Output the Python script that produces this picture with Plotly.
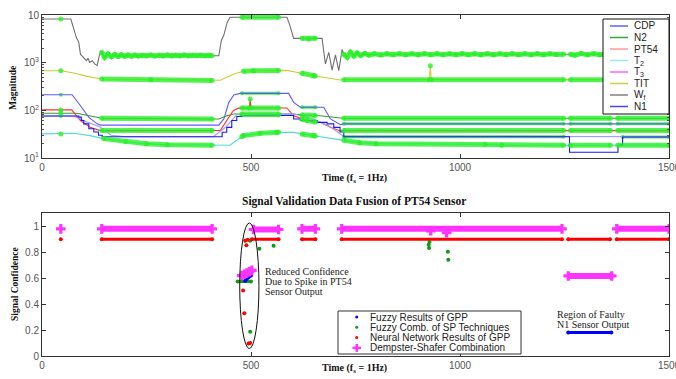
import plotly.graph_objects as go

# ---------------- top panel data (time, magnitude) ----------------
wf_t = [0, 45, 69, 82, 88, 92, 100, 106, 110, 114, 120, 126, 132, 137, 141, 143,
        150, 158, 166, 174, 182, 190, 198, 206, 214, 222, 230, 240, 250, 260, 270, 280,
        290, 300, 310, 320, 330, 340, 350, 360, 370, 380, 390, 400, 407,
        423, 429, 435, 443, 450, 478, 566, 586, 592, 598, 602, 622, 638, 654, 670,
        678, 686, 694, 702, 710, 718, 722, 730, 738, 746, 754, 762, 772, 782, 795,
        810, 825, 840, 855, 870, 885, 900, 915, 930, 945, 960, 975, 990, 1005, 1020,
        1035, 1050, 1065, 1080, 1095, 1110, 1125, 1140, 1155, 1170, 1185, 1200, 1215,
        1230, 1248, 1256, 1264, 1275, 1290, 1305, 1320, 1335, 1350, 1365, 1380, 1395,
        1410, 1425, 1440, 1455, 1470, 1485, 1500]
wf_v = [8250, 8250, 8250, 3400, 2670, 1510, 1295, 1100, 1235, 1016, 1100, 940, 865, 1400, 1700, 1650,
        1300, 1520, 1330, 1480, 1350, 1460, 1360, 1450, 1370, 1440, 1380, 1430, 1390, 1440, 1380, 1430,
        1390, 1440, 1390, 1430, 1390, 1440, 1390, 1430, 1400, 1440, 1390, 1430, 1400,
        1400, 2890, 3800, 7000, 8940, 8940, 8940, 8940, 6460, 4000, 3240, 3240, 3150, 3240, 3240,
        940, 1650, 700, 1450, 680, 1900, 1500, 1300, 1650, 1380, 1600, 1420, 1560, 1440, 1540,
        1450, 1540, 1460, 1540, 1470, 1530, 1460, 1540, 1470, 1530, 1460, 1540, 1470, 1530, 1460,
        1540, 1470, 1530, 1460, 1540, 1470, 1530, 1460, 1540, 1470, 1530, 1460, 1540,
        1480, 1500, 1500, 1500, 1440, 1550, 1460, 1540, 1460, 1540, 1470, 1530, 1470,
        1530, 1470, 1530, 1470, 1530, 1480, 1510]

tit_t = [0, 44, 45, 76, 108, 143, 260, 407, 423, 427, 459, 482, 506, 566, 586, 618, 622,
         650, 654, 714, 722, 927, 929, 931, 1248, 1264, 1500]
tit_v = [679, 679, 679, 607, 516, 454, 440, 425, 425, 428, 578, 658, 679, 685, 690, 607, 600,
         533, 525, 433, 440, 440, 865, 440, 440, 440, 440]

cdp_t = [0, 45, 72, 92, 112, 132, 140, 423, 435, 447, 459, 474, 478, 566, 590, 602, 618, 622,
         654, 674, 690, 714, 722, 1248, 1264, 1360, 1377, 1500]
cdp_v = [213, 213, 213, 125, 71, 52, 49, 49, 66, 147, 210, 227, 227, 227, 227, 147, 116, 116,
         116, 116, 66, 50, 52, 52, 52, 52, 52, 52]

n2_t = [0, 45, 83, 110, 139, 143, 407, 423, 443, 459, 478, 566, 602, 622, 654, 666, 714, 722,
        1248, 1264, 1360, 1377, 1500]
n2_v = [87, 87, 87, 78, 68, 68, 66, 66, 77, 84, 84, 84, 84, 80, 78, 77, 69, 68,
        68, 68, 68, 68, 68]

pt54_t = [0, 45, 71, 92, 115, 139, 143, 407, 423, 427, 442, 458, 470, 478, 496, 498, 500, 566,
          586, 602, 622, 634, 654, 666, 690, 714, 722, 1248, 1264, 1360, 1377, 1500]
pt54_v = [102, 102, 102, 61, 44, 37.6, 37.6, 37.6, 37.6, 38, 61, 99, 111, 112, 112, 173, 112, 112,
          112, 77, 65, 61, 57, 56, 44, 37, 37.6, 37.6, 37.6, 37.6, 37.6, 37.6]

t2_t = [0, 45, 75, 115, 147, 200, 250, 300, 407, 450, 459, 478, 482, 522, 562, 566, 602, 622,
        650, 654, 714, 722, 760, 800, 1060, 1100, 1248, 1264, 1360, 1377, 1500]
t2_v = [32, 32, 33, 29.5, 25.5, 22, 20, 19, 18.5, 18.5, 21.4, 28, 29.5, 32.9, 34.5, 34.5, 34.5, 32,
        29.5, 29, 24, 23.5, 21, 20, 19.5, 18.5, 18.5, 18.5, 18.5, 18.5, 18.5]

t3_t = [0, 75, 108, 140, 165, 200, 410, 440, 466, 602, 650, 690, 720, 1500]
t3_v = [76, 76, 57, 44, 30, 28, 28, 45, 81, 84, 66, 45, 29, 28]

n1_t = [0, 45, 88, 94, 100, 112, 124, 135, 144, 423, 431, 442, 454, 466, 478, 566, 602, 618,
        658, 682, 698, 713, 722, 1248, 1262, 1378, 1389, 1500]
n1_v = [76, 76, 72, 61, 52, 41, 35, 30, 28, 28, 34.7, 44, 61, 74, 78, 78, 66, 61,
        56, 52, 44, 35, 28, 28, 13.2, 18.8, 27.5, 27.5]

# validated (highlighted) time intervals per sensor
wf_ok = [(45, 45), (143, 407), (478, 566), (622, 654), (722, 1248), (1264, 1500)]
tit_ok = [(45, 45), (143, 407), (478, 566), (622, 654), (722, 927), (929, 929), (931, 1248), (1264, 1500)]
cdp_ok = [(45, 45), (478, 566), (622, 654), (722, 1248), (1264, 1360), (1377, 1500)]
n2_ok = [(45, 45), (143, 407), (478, 566), (622, 654), (722, 1248), (1264, 1360), (1377, 1500)]
pt54_ok = [(45, 45), (143, 407), (478, 496), (498, 498), (500, 566), (622, 654), (722, 1248), (1264, 1360), (1377, 1500)]
t2_ok = [(45, 45), (143, 407), (478, 566), (622, 654), (722, 1248), (1264, 1360), (1377, 1500)]
n1_ok = [(45, 45), (478, 566), (722, 1248), (1389, 1500)]

legend_names = ["CDP", "N2", "PT54", "T<sub>2</sub>", "T<sub>3</sub>", "TIT", "W<sub>f</sub>", "N1"]

# ---------------- bottom panel data (time, confidence) ----------------
fr_t = [486, 500, None, 1259, 1362]
fr_v = [0.58, 0.62, None, 0.181, 0.181]

fc_t = [468, 500, None, 498, None, 498, None, 520, None, 554, None, 925, None, 926, None, 927,
        None, 971, None, 972]
fc_v = [0.574, 0.574, None, 0.889, None, 0.186, None, 0.827, None, 0.850, None, 0.858, None, 0.832,
        None, 0.879, None, 0.804, None, 0.742]

nn_t = [45, None, 143, 407, None, 481, None, 484, None, 486, None, 489, None, 492, None, 494, None,
        498, None, 502, 566, None, 622, 654, None, 717, 1244, None, 1259, 1359, None, 1375, 1500]
nn_v = [0.9, None, 0.9, 0.9, None, 0.504, None, 0.33, None, 0.889, None, 0.853, None, 0.897, None,
        0.096, None, 0.1, None, 0.9, 0.9, None, 0.9, 0.9, None, 0.9, 0.9, None, 0.9, 0.9, None, 0.9, 0.9]

ds_t = [45, None, 143, 407, None, 478, 484, 490, 496, 502, None, 506, 566, None, 622, 654, None,
        717, 1244, None, 930, None, 968, None, 1259, 1363, None, 1375, 1500]
ds_v = [0.98, None, 0.98, 0.98, None, 0.62, 0.63, 0.64, 0.65, 0.66, None, 0.975, 0.975, None, 0.98, 0.98,
        None, 0.98, 0.98, None, 0.965, None, 0.95, None, 0.617, 0.617, None, 0.98, 0.98]

bottom_names = ["Fuzzy Results of GPP", "Fuzzy Comb. of SP Techniques",
                "Neural Network Results of GPP", "Dempster-Shafer Combination"]

# ---------------- styles ----------------
SERIF = "Liberation Serif, Times New Roman, serif"
SANS = "Liberation Sans, Arial, sans-serif"
GREEN_HI = "rgba(40,240,40,0.8)"

line_colors = {"CDP": "#5c5cff", "N2": "#339933", "PT54": "#ff3030", "T2": "#50dada",
               "T3": "#9a9aff", "TIT": "#cccc33", "Wf": "#707070", "N1": "#1a1aee"}
legend_colors = ["#6262ff", "#33aa33", "#ff9a9a", "#99e8e8", "#ff66ff", "#d0d040", "#808080", "#4444ff"]

fig = go.Figure()


def pick(t, v, intervals):
    xs, ys = [], []
    for a, b in intervals:
        for ti, vi in zip(t, v):
            if a <= ti <= b:
                xs.append(ti)
                ys.append(vi)
        xs.append(None)
        ys.append(None)
    return xs, ys


def hi_trace(t, v, ok, width, shape="linear", msize=5):
    xs, ys = pick(t, v, ok)
    return go.Scatter(x=xs, y=ys, mode="lines+markers", xaxis="x", yaxis="y",
                      line=dict(color=GREEN_HI, width=width, shape=shape),
                      marker=dict(color=GREEN_HI, size=msize), hoverinfo="skip")


# thin highlights under blue lines
fig.add_trace(hi_trace(cdp_t, cdp_v, cdp_ok, 3, msize=4))
fig.add_trace(hi_trace(n1_t, n1_v, n1_ok, 3, shape="hv", msize=4))

top_series = [("Wf", wf_t, wf_v, "linear"), ("TIT", tit_t, tit_v, "linear"),
              ("CDP", cdp_t, cdp_v, "linear"), ("N2", n2_t, n2_v, "linear"),
              ("PT54", pt54_t, pt54_v, "linear"), ("T2", t2_t, t2_v, "linear"),
              ("T3", t3_t, t3_v, "linear"), ("N1", n1_t, n1_v, "hv")]
for name, t, v, shp in top_series:
    fig.add_trace(go.Scatter(x=t, y=v, mode="lines", xaxis="x", yaxis="y", name=name,
                             line=dict(color=line_colors[name], width=1.1, shape=shp)))

for t, v, ok in [(wf_t, wf_v, wf_ok), (tit_t, tit_v, tit_ok), (n2_t, n2_v, n2_ok),
                 (pt54_t, pt54_v, pt54_ok), (t2_t, t2_v, t2_ok)]:
    fig.add_trace(hi_trace(t, v, ok, 5))

# bottom panel
fig.add_trace(go.Scatter(x=fc_t, y=fc_v, mode="lines+markers", xaxis="x2", yaxis="y2",
                         line=dict(color="#119911", width=3), marker=dict(color="#119911", size=4)))
fig.add_trace(go.Scatter(x=fr_t, y=fr_v, mode="lines+markers", xaxis="x2", yaxis="y2",
                         line=dict(color="#0000ff", width=3), marker=dict(color="#0000ff", size=4)))
fig.add_trace(go.Scatter(x=nn_t, y=nn_v, mode="lines+markers", xaxis="x2", yaxis="y2",
                         line=dict(color="#ff0000", width=3), marker=dict(color="#ff0000", size=4)))
fig.add_trace(go.Scatter(x=ds_t, y=ds_v, mode="lines+markers", xaxis="x2", yaxis="y2",
                         line=dict(color="#ff33ff", width=6),
                         marker=dict(color="#ff33ff", size=8, symbol="cross")))

# ---------------- layout ----------------
L, T, W, H = 42, 15, 627, 341


def pxx(px):
    return (px - L) / W


def pyy(py):
    return (T + H - py) / H


axis_common = dict(showgrid=False, zeroline=False, showline=True, linecolor="#333", linewidth=1,
                   ticks="inside", ticklen=4, tickcolor="#333", mirror="allticks", automargin=False,
                   ticklabeloverflow="allow",
                   tickfont=dict(family=SANS, size=10, color="#555"))

fig.update_layout(
    width=676, height=379, margin=dict(l=L, r=676 - L - W, t=T, b=379 - T - H),
    paper_bgcolor="white", plot_bgcolor="white", showlegend=False,
    xaxis=dict(domain=[0, 1], anchor="y", range=[0, 1500], tickvals=[0, 500, 1000, 1500], **axis_common),
    yaxis=dict(domain=[pyy(158), 1], anchor="x", type="log", range=[1, 4],
               tickvals=[10, 100, 1000, 10000],
               ticktext=["10<sup>1</sup>", "10<sup>2</sup>", "10<sup>3</sup>", "10"],
               minor=dict(ticks="inside", ticklen=2, tickcolor="#555", dtick="D1", showgrid=False),
               **axis_common),
    xaxis2=dict(domain=[0, 1], anchor="y2", range=[0, 1500], tickvals=[0, 500, 1000, 1500], **axis_common),
    yaxis2=dict(domain=[0, pyy(213.3)], anchor="x2", range=[0, 1.1],
                tickvals=[0, 0.2, 0.4, 0.6, 0.8, 1], ticktext=["0", "0.2", "0.4", "0.6", "0.8", "1"],
                **axis_common),
)

shapes = []
ann = []

# ellipse around spike region
shapes.append(dict(type="circle", xref="x2", yref="y2", x0=473, x1=519, y0=0.057, y1=1.026,
                   line=dict(color="#111", width=1)))

# top legend
shapes.append(dict(type="rect", xref="paper", yref="paper", x0=pxx(603), x1=pxx(669),
                   y0=pyy(114), y1=pyy(19), fillcolor="white", line=dict(color="#111", width=1),
                   layer="above"))
for i, (nm, col) in enumerate(zip(legend_names, legend_colors)):
    py = 26 + 11.5 * i
    shapes.append(dict(type="line", xref="paper", yref="paper", x0=pxx(610), x1=pxx(628),
                       y0=pyy(py), y1=pyy(py), line=dict(color=col, width=1.5), layer="above"))
    ann.append(dict(xref="paper", yref="paper", x=pxx(632), y=pyy(py), text=nm, showarrow=False,
                    xanchor="left", yanchor="middle", font=dict(family=SANS, size=10, color="#222")))

# bottom legend
shapes.append(dict(type="rect", xref="paper", yref="paper", x0=pxx(338), x1=pxx(521),
                   y0=pyy(354), y1=pyy(311), fillcolor="white", line=dict(color="#333", width=1),
                   layer="above"))
bcols = ["#0000ff", "#119911", "#ff0000", "#ff33ff"]
for i, (nm, col) in enumerate(zip(bottom_names, bcols)):
    py = 317 + 10.3 * i
    if i < 3:
        shapes.append(dict(type="circle", xref="paper", yref="paper", x0=pxx(355.2), x1=pxx(358.2),
                           y0=pyy(py + 1.5), y1=pyy(py - 1.5), fillcolor=col, line=dict(width=0),
                           layer="above"))
    else:
        shapes.append(dict(type="rect", xref="paper", yref="paper", x0=pxx(352.5), x1=pxx(361),
                           y0=pyy(py + 1.2), y1=pyy(py - 1.2), fillcolor=col, line=dict(width=0),
                           layer="above"))
        shapes.append(dict(type="rect", xref="paper", yref="paper", x0=pxx(355.5), x1=pxx(358),
                           y0=pyy(py + 4), y1=pyy(py - 4), fillcolor=col, line=dict(width=0),
                           layer="above"))
    ann.append(dict(xref="paper", yref="paper", x=pxx(368), y=pyy(py), text=nm, showarrow=False,
                    xanchor="left", yanchor="middle", font=dict(family=SANS, size=10, color="#222")))

# callout texts
for j, line in enumerate(["Reduced Confidence", "Due to Spike in PT54", "Sensor Output"]):
    ann.append(dict(xref="paper", yref="paper", x=pxx(263), y=pyy(271 + 10 * j), text=line,
                    showarrow=False, xanchor="left", yanchor="middle",
                    font=dict(family=SERIF, size=10, color="#222")))
for j, line in enumerate(["Region of Faulty", "N1 Sensor Output"]):
    ann.append(dict(xref="paper", yref="paper", x=pxx(555), y=pyy(314 + 10 * j), text=line,
                    showarrow=False, xanchor="left", yanchor="middle",
                    font=dict(family=SERIF, size=10, color="#222")))

# titles
ann.append(dict(xref="paper", yref="paper", x=pxx(354), y=pyy(202),
                text="<b>Signal Validation Data Fusion of PT54 Sensor</b>", showarrow=False,
                xanchor="center", yanchor="middle", font=dict(family=SERIF, size=11.5, color="#111")))
ann.append(dict(xref="paper", yref="paper", x=pxx(354), y=pyy(178),
                text="<b>Time (f<sub>s</sub> = 1Hz)</b>", showarrow=False,
                xanchor="center", yanchor="middle", font=dict(family=SERIF, size=10, color="#111")))
ann.append(dict(xref="paper", yref="paper", x=pxx(354), y=pyy(368),
                text="<b>Time (f<sub>s</sub> = 1Hz)</b>", showarrow=False,
                xanchor="center", yanchor="middle", font=dict(family=SERIF, size=10, color="#111")))
ann.append(dict(xref="paper", yref="paper", x=pxx(13), y=pyy(88), text="<b>Magnitude</b>",
                showarrow=False, textangle=-90, xanchor="center", yanchor="middle",
                font=dict(family=SERIF, size=9.5, color="#111")))
ann.append(dict(xref="paper", yref="paper", x=pxx(15), y=pyy(284), text="<b>Signal Confidence</b>",
                showarrow=False, textangle=-90, xanchor="center", yanchor="middle",
                font=dict(family=SERIF, size=9.5, color="#111")))

fig.update_layout(shapes=shapes, annotations=ann)
fig.write_html("out.html", config={"displayModeBar": False},
               post_script="document.body.style.margin='0';document.body.style.overflow='hidden';")
